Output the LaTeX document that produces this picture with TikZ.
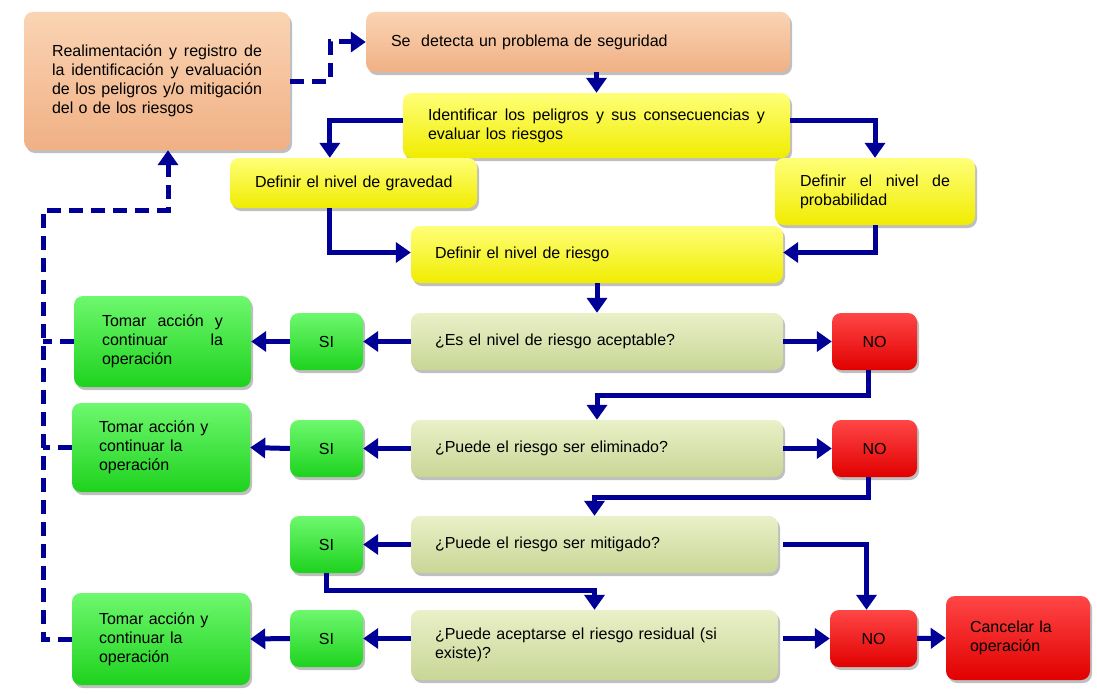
\documentclass[tikz,border=0pt]{standalone}
\usepackage{fontspec}
\setmainfont{Liberation Sans}
\usetikzlibrary{arrows.meta,shadows,calc}
\definecolor{arrowblue}{RGB}{0,0,150}
\definecolor{peachL}{RGB}{250,212,180}
\definecolor{peachD}{RGB}{240,176,132}
\definecolor{yelL}{RGB}{255,255,120}
\definecolor{yelD}{RGB}{240,236,0}
\definecolor{olL}{RGB}{234,240,200}
\definecolor{olD}{RGB}{200,214,150}
\definecolor{grL}{RGB}{110,248,110}
\definecolor{grD}{RGB}{30,210,30}
\definecolor{rdL}{RGB}{255,70,70}
\definecolor{rdD}{RGB}{225,0,0}
\newcommand\jl[1]{\leavevmode\hbox to\hsize{\spaceskip=0.278em plus 1fil\relax #1}}
\tikzset{
  box/.style={rounded corners=9pt, inner ysep=0pt, align=left, text=black,
    font=\fontsize{16}{19}\selectfont,
    drop shadow={shadow xshift=2pt, shadow yshift=-3pt, opacity=0.25, fill=black}},
  peach/.style={box, top color=peachL, bottom color=peachD},
  yel/.style={box, top color=yelL, bottom color=yelD},
  olive/.style={box, top color=olL, bottom color=olD},
  grn/.style={box, top color=grL, bottom color=grD},
  rd/.style={box, top color=rdL, bottom color=rdD},
  arr/.style={draw=arrowblue, line width=5pt, -{Triangle[width=20pt,length=15pt]}},
  lnk/.style={draw=arrowblue, line width=5pt},
  fb/.style={arr, dash pattern=on 14pt off 8pt},
  fbline/.style={lnk, dash pattern=on 14pt off 8pt}
}
\begin{document}
\begin{tikzpicture}[x=1pt,y=-1pt]
\fill[white] (0,0) rectangle (1097,693);
\useasboundingbox (0,0) rectangle (1097,693);

\node[peach, minimum width=266pt, minimum height=138pt, text width=210pt, inner xsep=28pt] (realim) at (157,81)
  {\jl{Realimentación y registro de}\\\jl{la identificación y evaluación}\\\jl{de los peligros y/o mitigación}\\del o de los riesgos};
\node[peach, minimum width=424pt, minimum height=60pt, text width=374pt, inner xsep=25pt] (detecta) at (578,42)
  {Se\ \ detecta un problema de seguridad};
\node[yel, minimum width=387pt, minimum height=65pt, text width=337pt, inner xsep=25pt] (ident) at (596.5,125.5)
  {\jl{Identificar los peligros y sus consecuencias y}\\evaluar los riesgos};
\node[yel, minimum width=247pt, minimum height=50pt, text width=197pt, inner xsep=25pt] (grav) at (353.5,183)
  {\mbox{Definir el nivel de gravedad}};
\node[yel, minimum width=200pt, minimum height=67pt, text width=150pt, inner xsep=25pt] (prob) at (875,191.5)
  {\jl{Definir el nivel de}\\probabilidad};
\node[yel, minimum width=372pt, minimum height=57pt, text width=324pt, inner xsep=24pt] (nivel) at (597,254.5)
  {Definir el nivel de riesgo};

\node[olive, minimum width=372pt, minimum height=57pt, text width=324pt, inner xsep=24pt] (q1) at (597,341.5)
  {¿Es el nivel de riesgo aceptable?};
\node[olive, minimum width=372pt, minimum height=57pt, text width=324pt, inner xsep=24pt] (q2) at (597,448.5)
  {¿Puede el riesgo ser eliminado?};
\node[olive, minimum width=367pt, minimum height=57pt, text width=319pt, inner xsep=24pt] (q3) at (594.5,544.5)
  {¿Puede el riesgo ser mitigado?};
\node[olive, minimum width=367pt, minimum height=70pt, text width=319pt, inner xsep=24pt] (q4) at (594.5,645)
  {¿Puede aceptarse el riesgo residual (si\\existe)?};

\node[grn, minimum width=73pt, minimum height=57pt, align=center] (si1) at (326.5,341.5) {SI};
\node[grn, minimum width=73pt, minimum height=57pt, align=center] (si2) at (326.5,448.5) {SI};
\node[grn, minimum width=73pt, minimum height=57pt, align=center] (si3) at (326.5,544.5) {SI};
\node[grn, minimum width=73pt, minimum height=57pt, align=center] (si4) at (326.5,638.5) {SI};

\node[rd, minimum width=85pt, minimum height=57pt, align=center] (no1) at (874.5,341.5) {NO};
\node[rd, minimum width=85pt, minimum height=57pt, align=center] (no2) at (874.5,448.5) {NO};
\node[rd, minimum width=87pt, minimum height=57pt, align=center] (no3) at (873.5,638.5) {NO};

\node[grn, minimum width=177pt, minimum height=91pt, text width=121pt, inner xsep=28pt] (tomar1) at (162.5,341.5)
  {\jl{Tomar acción y}\\\jl{continuar la}\\operación};
\node[grn, minimum width=178pt, minimum height=89pt, text width=124pt, inner xsep=27pt] (tomar2) at (161,447.5)
  {Tomar acción y\\continuar la\\operación};
\node[grn, minimum width=178pt, minimum height=92pt, text width=124pt, inner xsep=27pt] (tomar3) at (161,639)
  {Tomar acción y\\continuar la\\operación};

\node[rd, minimum width=144pt, minimum height=84pt, text width=96pt, inner xsep=24pt] (cancel) at (1018,638)
  {Cancelar la\\operación};

% main flow
\draw[arr] (detecta.south -| ident.north) -- (ident.north);
\draw[arr] ([yshift=5pt]ident.west) -| ([xshift=100pt]grav.north west);
\draw[arr] ([yshift=5pt]ident.east) -| (prob.north);
\draw[arr] ([xshift=100pt]grav.south west) |- ([yshift=2pt]nivel.west);
\draw[arr] (prob.south) |- ([yshift=2pt]nivel.east);
\draw[arr] (nivel.south) -- (q1.north);

\draw[arr] (q1.west) -- (si1.east);
\draw[arr] (si1.west) -- (tomar1.east);
\draw[arr] (q1.east) -- (no1.west);
\draw[arr] ([xshift=-6pt]no1.south) -- ++(0,25) -| (q2.north);

\draw[arr] (q2.west) -- (si2.east);
\draw[arr] (si2.west) -- (tomar2.east);
\draw[arr] (q2.east) -- (no2.west);
\draw[arr] ([xshift=-6pt]no2.south) -- ++(0,20) -| (q3.north);

\draw[arr] (q3.west) -- (si3.east);
\draw[arr] ([xshift=5pt]q3.east) -| ([xshift=-7pt]no3.north);
\draw[arr] (si3.south) -- ++(0,17) -| (q4.north);

\draw[arr] (q4.west |- si4.east) -- (si4.east);
\draw[arr] (si4.west) -- (tomar3.east);
\draw[arr] ([xshift=5pt]q4.east |- no3.west) -- (no3.west);
\draw[arr] (no3.east) -- (cancel.west);

% feedback
\coordinate (fbtop) at (43,210);
\draw[fb] (tomar3.west) -| (fbtop) -| ([xshift=11pt]realim.south);
\draw[fbline] (tomar1.west) -- (tomar1.west -| fbtop);
\draw[fbline] (tomar2.west) -- (tomar2.west -| fbtop);
\draw[fb] (realim.east) -- ++(40,0) |- (detecta.west);
\end{tikzpicture}
\end{document}
